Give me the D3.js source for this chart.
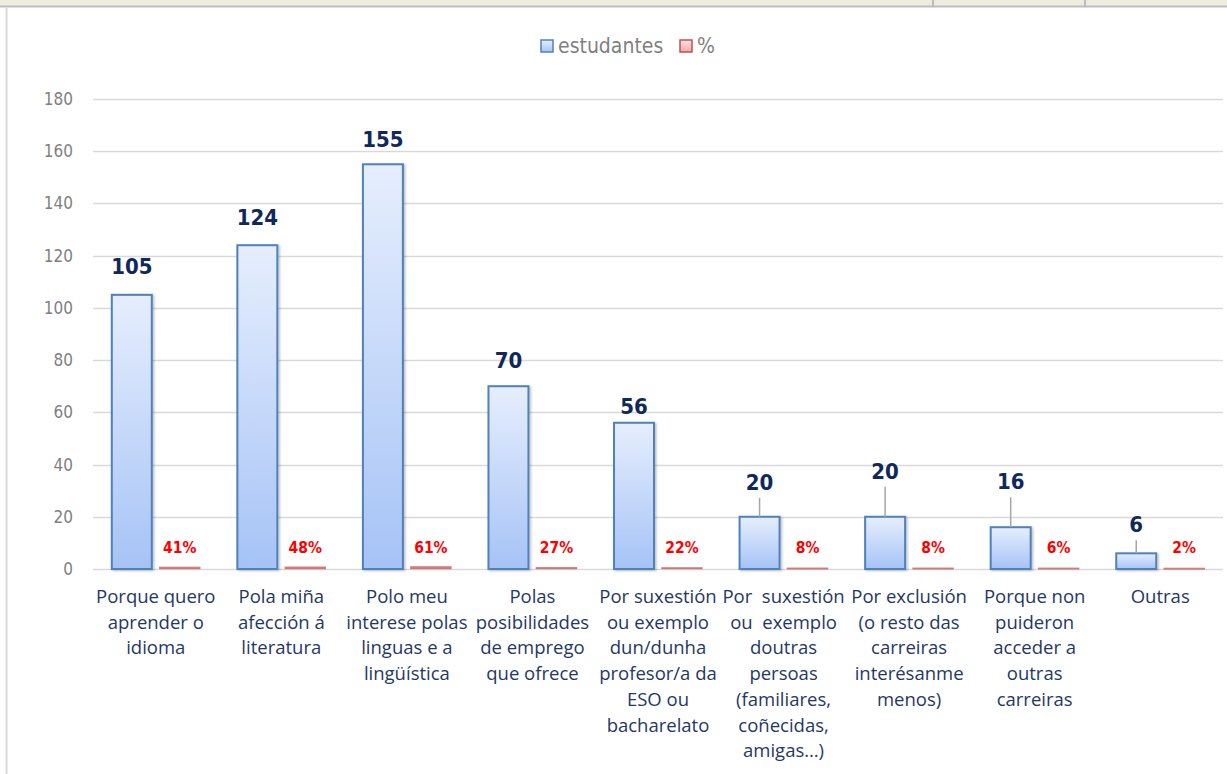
<!DOCTYPE html>
<html>
<head>
<meta charset="utf-8">
<script src="https://cdn.jsdelivr.net/npm/d3@7"></script>
<style>
  body { margin: 0; background: #fff; }
  svg { display: block; }
  .cat { white-space: pre; }
</style>
</head>
<body>
<div id="chart"></div>
<script>
// chart data
var categories = [
  "Porque quero\naprender o\nidioma",
  "Pola miña\nafección á\nliteratura",
  "Polo meu\ninterese polas\nlinguas e a\nlingüística",
  "Polas\nposibilidades\nde emprego\nque ofrece",
  "Por suxestión\nou exemplo\ndun/dunha\nprofesor/a da\nESO ou\nbacharelato",
  "Por  suxestión\nou  exemplo\ndoutras\npersoas\n(familiares,\ncoñecidas,\namigas…)",
  "Por exclusión\n(o resto das\ncarreiras\ninterésanme\nmenos)",
  "Porque non\npuideron\nacceder a\noutras\ncarreiras",
  "Outras"
];
var estudantes = [105, 124, 155, 70, 56, 20, 20, 16, 6];
var percent = [0.41, 0.48, 0.61, 0.27, 0.22, 0.08, 0.08, 0.06, 0.02];
var seriesNames = ["estudantes", "%"];
var yTicks = [0, 20, 40, 60, 80, 100, 120, 140, 160, 180];

// label placement (pixels above bar top), leader lines for moved labels
var labelLift = [21, 20, 17, 18, 9, 27, 38, 38, 21];
var leader = [false, false, false, false, false, true, true, true, true];

var width = 1227,
    height = 774;
var plotLeft = 93, plotRight = 1223, plotTop = 99, plotBottom = 569;
var narrow = "'DejaVu Sans Condensed', 'Liberation Sans Narrow', sans-serif";

var svg = d3.select("#chart").append("svg")
  .attr("width", width)
  .attr("height", height);

var defs = svg.append("defs");
var grad = defs.append("linearGradient")
  .attr("id", "blueGrad").attr("x1", 0).attr("y1", 0).attr("x2", 0).attr("y2", 1);
grad.append("stop").attr("offset", "0%").attr("stop-color", "#e6eefd");
grad.append("stop").attr("offset", "100%").attr("stop-color", "#a6c3f6");
var gradR = defs.append("linearGradient")
  .attr("id", "redGrad").attr("x1", 0).attr("y1", 0).attr("x2", 0).attr("y2", 1);
gradR.append("stop").attr("offset", "0%").attr("stop-color", "#fde3e3");
gradR.append("stop").attr("offset", "100%").attr("stop-color", "#f4a9a9");
defs.append("filter").attr("id", "shadow")
  .attr("x", "-20%").attr("y", "-20%").attr("width", "140%").attr("height", "140%")
  .append("feDropShadow")
  .attr("dx", 1.5).attr("dy", 1).attr("stdDeviation", 1.2)
  .attr("flood-color", "#000").attr("flood-opacity", 0.25);

// spreadsheet frame around the chart
svg.append("rect").attr("x", 0).attr("y", 0).attr("width", width).attr("height", 6)
  .attr("fill", "#eeebdf");
svg.append("line").attr("x1", 0).attr("x2", width).attr("y1", 6.5).attr("y2", 6.5)
  .attr("stroke", "#bdbdbd").attr("stroke-width", 2);
[933, 1085].forEach(function(x) {
  svg.append("line").attr("x1", x).attr("x2", x).attr("y1", 0).attr("y2", 6)
    .attr("stroke", "#bdbdbd").attr("stroke-width", 2);
});
svg.append("line").attr("x1", 6.5).attr("x2", 6.5).attr("y1", 8).attr("y2", height)
  .attr("stroke", "#d9d9d9").attr("stroke-width", 2);

var x0 = d3.scaleBand()
  .domain(d3.range(categories.length))
  .range([plotLeft, plotRight]);

var x1 = d3.scaleBand()
  .domain(seriesNames)
  .range([0, x0.bandwidth()])
  .paddingInner(0.1667)
  .paddingOuter(0.392);

var y = d3.scaleLinear()
  .domain([0, 180])
  .range([plotBottom, plotTop]);

// gridlines
svg.append("g")
  .selectAll("line")
  .data(yTicks)
  .enter()
  .append("line")
  .attr("x1", plotLeft).attr("x2", plotRight)
  .attr("y1", function(d) { return Math.round(y(d)) + 0.5; })
  .attr("y2", function(d) { return Math.round(y(d)) + 0.5; })
  .attr("stroke", "#d9d9d9")
  .attr("stroke-width", 1.6);

// y axis labels
var yAxis = svg.append("g")
  .attr("transform", "translate(" + (plotLeft - 20) + ",0)")
  .call(d3.axisLeft(y).tickValues(yTicks).tickSize(0).tickPadding(0));
yAxis.select(".domain").remove();
yAxis.selectAll("text")
  .attr("fill", "#7f7f7f")
  .style("font-family", narrow)
  .style("font-size", "17px");

var groups = svg.selectAll(".cat-group")
  .data(categories)
  .enter()
  .append("g")
  .attr("class", "cat-group")
  .attr("transform", function(d, i) { return "translate(" + x0(i) + ",0)"; });

// estudantes bars
groups.append("rect")
  .attr("x", x1("estudantes"))
  .attr("width", x1.bandwidth())
  .attr("y", function(d, i) { return y(estudantes[i]); })
  .attr("height", function(d, i) { return y(0) - y(estudantes[i]); })
  .attr("fill", "url(#blueGrad)")
  .attr("stroke", "#4f81bd")
  .attr("stroke-width", 2)
  .attr("filter", "url(#shadow)");

// % bars (tiny, on the same axis)
groups.append("rect")
  .attr("x", x1("%"))
  .attr("width", x1.bandwidth())
  .attr("y", function(d, i) { return y(percent[i]) - 0.5; })
  .attr("height", function(d, i) { return Math.max(0.5, y(0) - y(percent[i])); })
  .attr("fill", "url(#redGrad)")
  .attr("stroke", "#c0504d")
  .attr("stroke-opacity", 0.7)
  .attr("stroke-width", 1.5);

// leader lines
groups.filter(function(d, i) { return leader[i]; })
  .append("line")
  .attr("x1", x1("estudantes") + x1.bandwidth() / 2)
  .attr("x2", x1("estudantes") + x1.bandwidth() / 2)
  .attr("y1", function(d) {
    var k = categories.indexOf(d);
    return y(estudantes[k]) - labelLift[k] + 8;
  })
  .attr("y2", function(d) { return y(estudantes[categories.indexOf(d)]); })
  .attr("stroke", "#a6a6a6")
  .attr("stroke-width", 1.5);

// value labels
groups.append("text")
  .attr("x", x1("estudantes") + x1.bandwidth() / 2)
  .attr("y", function(d, i) { return y(estudantes[i]) - labelLift[i]; })
  .attr("text-anchor", "middle")
  .attr("fill", "#10285a")
  .style("font-family", narrow)
  .style("font-weight", "bold")
  .style("font-size", "22px")
  .text(function(d, i) { return estudantes[i]; });

groups.append("text")
  .attr("x", x1("%") + x1.bandwidth() / 2)
  .attr("y", 553)
  .attr("text-anchor", "middle")
  .attr("fill", "#ff0000")
  .style("font-family", narrow)
  .style("font-weight", "bold")
  .style("font-size", "15.5px")
  .text(function(d, i) { return Math.round(percent[i] * 100) + "%"; });

// category labels
groups.append("text")
  .attr("class", "cat")
  .attr("text-anchor", "middle")
  .attr("fill", "#1f3864")
  .style("font-family", "'Open Sans', sans-serif")
  .style("font-size", "18.5px")
  .each(function(d) {
    var t = d3.select(this);
    d.split("\n").forEach(function(line, j) {
      t.append("tspan")
        .attr("x", x0.bandwidth() / 2)
        .attr("y", 603 + j * 25.7)
        .text(line);
    });
  });

// legend
var legend = svg.append("g").attr("class", "legend");
var legendItems = [
  { name: seriesNames[0], x: 541, fill: "url(#blueGrad)", stroke: "#4f81bd" },
  { name: seriesNames[1], x: 680, fill: "url(#redGrad)", stroke: "#c0504d" }
];
var li = legend.selectAll("g")
  .data(legendItems)
  .enter()
  .append("g")
  .attr("transform", function(d) { return "translate(" + d.x + ",40)"; });
li.append("rect")
  .attr("width", 12).attr("height", 12)
  .attr("fill", function(d) { return d.fill; })
  .attr("stroke", function(d) { return d.stroke; })
  .attr("stroke-width", 1.5);
li.append("text")
  .attr("x", 17)
  .attr("y", 12.5)
  .attr("fill", "#7f7f7f")
  .style("font-family", narrow)
  .style("font-size", "21px")
  .text(function(d) { return d.name; });
</script>
</body>
</html>
